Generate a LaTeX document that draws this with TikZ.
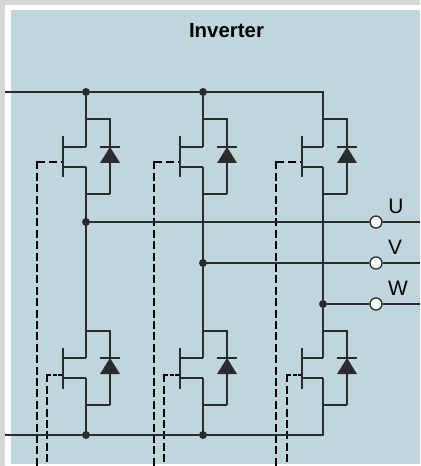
\documentclass[tikz,border=0pt]{standalone}
\usepackage{fontspec}
\setmainfont{Liberation Sans}
\definecolor{panel}{HTML}{BFD6DD}
\definecolor{edge}{HTML}{D6D6D8}
\definecolor{ink}{HTML}{2B2A2C}
\tikzset{
  wire/.style={draw=ink,line width=1.35bp},
  gatewire/.style={draw=black,line width=1.35bp,dash pattern=on 8bp off 3.4bp},
  gatewireb/.style={draw=black,line width=1.35bp,dash pattern=on 4bp off 1.6bp},
  gatewirec/.style={draw=black,line width=1.35bp,dash pattern=on 8bp off 4bp},
  junction/.style={circle,fill=ink,inner sep=0pt,minimum size=8bp},
  terminal/.style={circle,draw=ink,fill=white,line width=1.35bp,inner sep=0pt,minimum size=12bp},
  lab/.style={font=\fontsize{21}{23}\selectfont,text=black,inner sep=0pt},
}
\newcommand{\fet}[5]{% main x, bar x, loop top y, drain y, loop bottom y
  \draw[wire] (#2,#4-10.5) -- (#2,#4+30.5);
  \draw[wire] (#2,#4) -- (#1,#4);
  \draw[wire] (#2,#4+20) -- (#1,#4+20);
  \draw[wire] (#1,#3) -| (#1+24,#5);
  \draw[wire] (#1,#5) -- (#1+24,#5);
  \fill[ink] (#1+24,#4) -- (#1+34,#4+16) -- (#1+14,#4+16) -- cycle;
  \draw[wire] (#1+14,#4) -- (#1+34,#4);
}
\begin{document}
\begin{tikzpicture}[x=1bp,y=-1bp]
\useasboundingbox (0,0) rectangle (420,466);
\fill[edge] (0,0) rectangle (420,466);
\fill[white] (5,5) rectangle (420,466);
\fill[panel] (11,10) rectangle (420,464);
\node[font=\fontsize{20.5}{23}\selectfont\bfseries,inner sep=0pt] (title) at (226.5,31) {Inverter};
\coordinate (busAL) at (5,92);
\coordinate (busBL) at (5,435);
\node[junction] (a1) at (86,92) {};
\node[junction] (a2) at (203,92) {};
\coordinate (a3) at (323,92);
\node[junction] (b1) at (86,435) {};
\node[junction] (b2) at (203,435) {};
\coordinate (b3) at (323,435);
\node[junction] (p1) at (86,222) {};
\node[junction] (p2) at (203,263) {};
\node[junction] (p3) at (323,304) {};
\node[terminal] (tu) at (376,222) {};
\node[terminal] (tv) at (376,263) {};
\node[terminal] (tw) at (376,304) {};
\coordinate (eu) at (420,222);
\coordinate (ev) at (420,263);
\coordinate (ew) at (420,304);
\node[lab] (lu) at (396,206) {U};
\node[lab] (lv) at (395,247) {V};
\node[lab] (lw) at (398,288) {W};
% gates
\foreach \x/\b in {37/63,154/180,276/302}{
  \draw[gatewirec] (\x,162) -- (\b,162);
  \draw[gatewire] (\x,161.4) -- (\x,466);
}
\foreach \x/\b in {47/63,164/180,287/302}{
  \draw[gatewireb] (\x,375) -- (\b,375);
  \draw[gatewire] (\x,374.4) -- (\x,466);
}
% buses
\draw[wire] (busAL) -- (a1) -- (a2) -- (a3) -- (323,147);
\draw[wire] (busBL) -- (b1) -- (b2) -- (b3) -- (323,378);
\draw[wire] (p1) -- (tu) (tu) -- (eu);
\draw[wire] (p2) -- (tv) (tv) -- (ev);
\draw[wire] (p3) -- (tw) (tw) -- (ew);
\foreach \x/\b in {86/63,203/180,323/302}{
  \draw[wire] (\x,92) -- (\x,147);
  \draw[wire] (\x,167) -- (\x,358);
  \draw[wire] (\x,378) -- (\x,435);
  \fet{\x}{\b}{119}{147}{194}
  \fet{\x}{\b}{331}{358}{405}
}
\end{tikzpicture}
\end{document}
